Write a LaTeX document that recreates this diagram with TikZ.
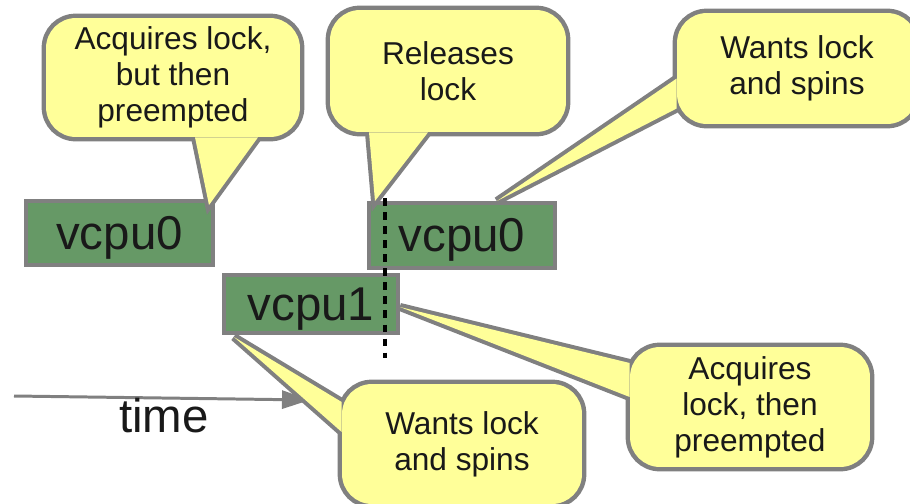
\documentclass[tikz,border=0pt]{standalone}
\usepackage{fontspec}
\setmainfont{Liberation Sans}
\usetikzlibrary{%
  arrows.meta,%
  positioning,%
  calc%
}
\pgfdeclarelayer{boxes}
\pgfdeclarelayer{outline}
\pgfsetlayers{boxes,outline,main}
\definecolor{bubblefill}{HTML}{FFFF99}
\definecolor{cpugreen}{HTML}{669966}
\definecolor{edgegray}{HTML}{808080}

\begin{document}
\begin{tikzpicture}
  [
  x=0.02cm, y=-0.02cm, line join=round,
  cpu/.style={rectangle, draw=edgegray, line width=2.3pt, fill=cpugreen, inner sep=0pt, text height=24pt, font=\fontsize{27}{30}\selectfont, text=black!90},
  bubble/.style={rectangle, fill=bubblefill, rounded corners=0.6cm, inner sep=0pt, align=center, font=\fontsize{18}{20.5}\selectfont, text=black!90, execute at begin node={\rule{0pt}{17.6pt}}},
  rim/.style={draw=edgegray, line width=4.6pt, rounded corners=0.6cm},
  tail/.style={draw=edgegray, line width=4.6pt}
  ]
\useasboundingbox (0,0) rectangle (910,504);

\begin{pgfonlayer}{boxes}
\node[cpu, minimum width=3.74cm, minimum height=1.28cm] (v0a) at (119.5,233) {vcpu0};
\node[cpu, minimum width=3.72cm, minimum height=1.30cm] (v0b) at (462,235.5) {vcpu0};
\node[cpu, minimum width=3.48cm, minimum height=1.16cm] (v1) at (311,304) {vcpu1};

% time axis
\coordinate (t0) at (14,396);
\coordinate (t1) at (310,400);
\draw[edgegray, line width=1.7pt, -{Triangle[length=0.56cm, width=0.36cm]}] (t0) -- (t1);
\node[font=\fontsize{27}{30}\selectfont, text=black!90] (timelabel) at (164,416) {time};
\end{pgfonlayer}

\node[bubble, minimum width=5.08cm, minimum height=2.38cm] (acq) at (173,77.5) {Acquires lock,\\but then\\preempted};
\node[bubble, minimum width=4.72cm, minimum height=2.44cm] (rel) at (448,71) {Releases\\lock};
\node[bubble, minimum width=4.80cm, minimum height=2.22cm] (spinA) at (797,68.5) {Wants lock\\and spins};
\node[bubble, minimum width=4.80cm, minimum height=2.40cm] (spinB) at (462,444) {Wants lock\\and spins};
\node[bubble, minimum width=4.80cm, minimum height=2.40cm] (acqB) at (750,407) {Acquires\\lock, then\\preempted};

% pointer corners
\coordinate (acqL) at ($(acq.south)+(22,0)$);
\coordinate (acqR) at ($(acq.south)+(85,0)$);
\coordinate (acqT) at ($(v0a.north east)+(-6,6)$);
\coordinate (relL) at ($(rel.south)+(-79,0)$);
\coordinate (relR) at ($(rel.south)+(-20,0)$);
\coordinate (relT) at ($(v0b.north west)+(8,0)$);
\coordinate (spinAL) at ($(spinA.west)+(0,10)$);
\coordinate (spinAR) at ($(spinA.west)+(0,40)$);
\coordinate (spinAT) at ($(v0b.north)+(35,0)$);
\coordinate (spinBL) at ($(spinB.west)+(0,-42)$);
\coordinate (spinBR) at ($(spinB.west)+(0,-12)$);
\coordinate (spinBT) at ($(v1.south west)+(12,2)$);
\coordinate (acqBL) at ($(acqB.west)+(0,-44)$);
\coordinate (acqBR) at ($(acqB.west)+(0,-10)$);
\coordinate (acqBT) at ($(v1.east)+(0,3)$);

\foreach \b in {acq,rel,spinA,spinB,acqB} {
  \begin{pgfonlayer}{outline}
  \draw[rim] (\b.south west) rectangle (\b.north east);
  \draw[tail] (\b L) -- (\b T) -- (\b R) -- cycle;
  \end{pgfonlayer}
  \fill[bubblefill] (\b L) -- (\b T) -- (\b R) -- cycle;
}

% release point
\coordinate (marktop) at (385,198);
\coordinate (markbot) at (385,358);
\draw[black, line width=2.3pt, dash pattern=on 4.5pt off 3.5pt] (marktop) -- (markbot);
\end{tikzpicture}
\end{document}
